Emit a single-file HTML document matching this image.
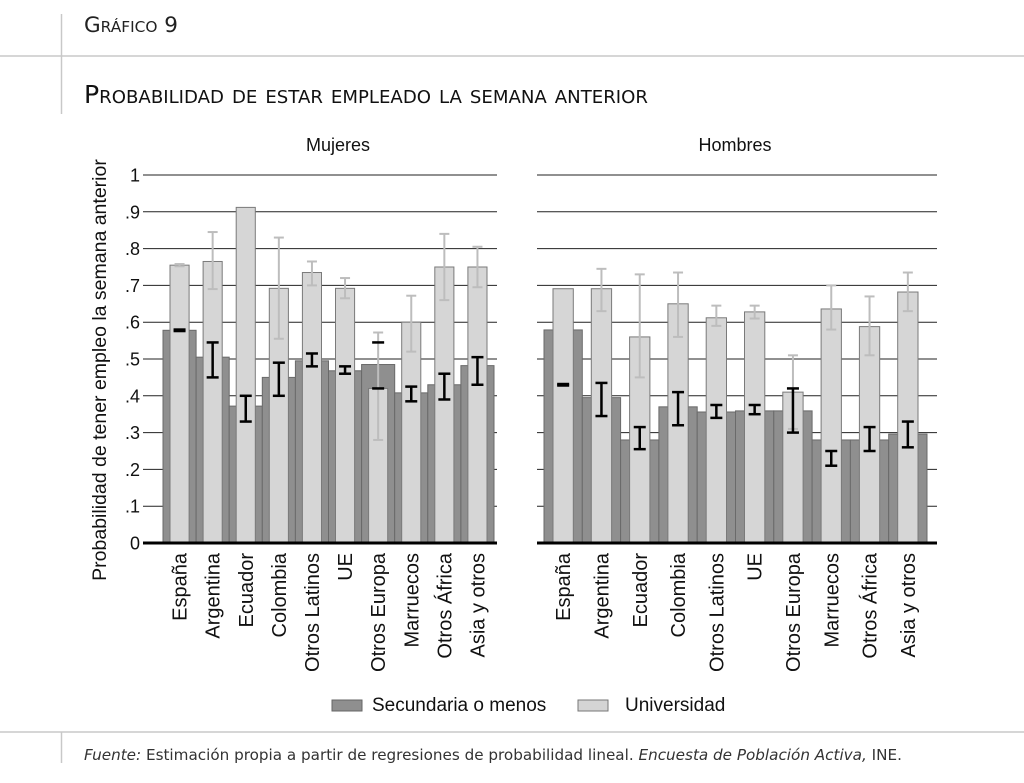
<!DOCTYPE html>
<html><head><meta charset="utf-8"><style>
html,body{margin:0;padding:0;background:#fff;}
body{width:1024px;height:783px;overflow:hidden;position:relative;}
svg{position:absolute;left:0;top:0;}
</style></head><body>
<svg id="s" width="1024" height="783" xmlns="http://www.w3.org/2000/svg" font-family="Liberation Sans, sans-serif">
<line x1="61.5" y1="14" x2="61.5" y2="114" stroke="#c8c8c8" stroke-width="1.5"/>
<line x1="0" y1="56" x2="1024" y2="56" stroke="#c8c8c8" stroke-width="1.5"/>
<line x1="0" y1="732" x2="1024" y2="732" stroke="#c8c8c8" stroke-width="1.5"/>
<line x1="61.5" y1="732" x2="61.5" y2="763" stroke="#c8c8c8" stroke-width="1.5"/>
<text x="84" y="32" font-family="DejaVu Sans, sans-serif" font-size="21" fill="#222" style="font-variant:small-caps" textLength="94" lengthAdjust="spacingAndGlyphs">Gráfico 9</text>
<text x="84" y="103" font-family="DejaVu Sans, sans-serif" font-size="25" fill="#111" style="font-variant:small-caps" textLength="564" lengthAdjust="spacingAndGlyphs">Probabilidad de estar empleado la semana anterior</text>
<text x="338" y="151" font-size="18" text-anchor="middle" fill="#111">Mujeres</text>
<text x="735" y="151" font-size="18" text-anchor="middle" fill="#111">Hombres</text>
<text transform="translate(106,370) rotate(-90)" font-size="19.5" text-anchor="middle" fill="#111">Probabilidad de tener empleo la semana anterior</text>
<g id="g"></g>
<rect x="332" y="700" width="30" height="11" fill="#8f8f8f" stroke="#666" stroke-width="1"/>
<text x="372" y="711" font-size="19" fill="#111">Secundaria o menos</text>
<rect x="578" y="700" width="30" height="11" fill="#d4d4d4" stroke="#777" stroke-width="1"/>
<text x="625" y="711" font-size="19" fill="#111">Universidad</text>
<text x="84" y="760" font-family="DejaVu Sans, sans-serif" font-size="15.2" fill="#333"><tspan font-style="italic">Fuente:</tspan> Estimación propia a partir de regresiones de probabilidad lineal. <tspan font-style="italic">Encuesta de Población Activa,</tspan> INE.</text>
</svg>
<script>
var g=document.getElementById('g'),h='';
function Y(v){return 543-368*v;}
var cats=['España','Argentina','Ecuador','Colombia','Otros Latinos','UE','Otros Europa','Marruecos','Otros África','Asia y otros'];
for(var i=1;i<=10;i++){var y=Y(i/10);
h+='<line x1="143" y1="'+y+'" x2="497" y2="'+y+'" stroke="#222" stroke-width="1"/>';
h+='<line x1="537" y1="'+y+'" x2="937" y2="'+y+'" stroke="#222" stroke-width="1"/>';}
for(var i=0;i<=10;i++){var t=i==0?'0':(i==10?'1':'.'+i);
h+='<text x="140" y="'+(Y(i/10)+6.5)+'" font-size="18" text-anchor="end" fill="#111">'+t+'</text>';}
var P=[
{x0:163,w:33.1,ins:7,
d:[.578,.505,.372,.45,.495,.468,.485,.408,.43,.482],
u:[.755,.765,.912,.692,.735,.692,.42,.60,.75,.75],
ue:[[.752,.758],[.69,.845],null,[.555,.83],[.70,.765],[.665,.72],[.28,.572],[.52,.672],[.66,.84],[.695,.805]],
de:[[.576,.58],[.45,.545],[.33,.40],[.40,.49],[.48,.515],[.46,.48],[.42,.545,1],[.385,.425],[.39,.46],[.43,.505]]},
{x0:544,w:38.3,ins:9,
d:[.579,.395,.28,.37,.356,.359,.359,.28,.28,.296],
u:[.691,.691,.56,.65,.612,.628,.41,.636,.588,.682],
ue:[null,[.63,.745],[.45,.73],[.56,.735],[.59,.645],[.61,.645],[.31,.51],[.58,.70],[.51,.67],[.63,.735]],
de:[[.428,.432],[.345,.435],[.255,.315],[.32,.41],[.34,.375],[.35,.375],[.30,.42],[.21,.25],[.25,.315],[.26,.33]]}];
P.forEach(function(p){
for(var i=0;i<10;i++){var x=p.x0+p.w*i,cx=x+p.w/2;
h+='<rect x="'+x+'" y="'+Y(p.d[i])+'" width="'+p.w+'" height="'+(368*p.d[i])+'" fill="#8f8f8f" stroke="#6a6a6a" stroke-width="1"/>';
h+='<rect x="'+(x+p.ins)+'" y="'+Y(p.u[i])+'" width="'+(p.w-2*p.ins)+'" height="'+(368*p.u[i])+'" fill="#d6d6d6" stroke="#7a7a7a" stroke-width="1"/>';
var e=p.ue[i];if(e){h+='<g stroke="#bdbdbd" stroke-width="2"><line x1="'+cx+'" y1="'+Y(e[0])+'" x2="'+cx+'" y2="'+Y(e[1])+'"/><line x1="'+(cx-5)+'" y1="'+Y(e[0])+'" x2="'+(cx+5)+'" y2="'+Y(e[0])+'"/><line x1="'+(cx-5)+'" y1="'+Y(e[1])+'" x2="'+(cx+5)+'" y2="'+Y(e[1])+'"/></g>';}
e=p.de[i];h+='<g stroke="#000" stroke-width="2.5">'+(e[2]?'':'<line x1="'+cx+'" y1="'+Y(e[0])+'" x2="'+cx+'" y2="'+Y(e[1])+'"/>')+'<line x1="'+(cx-6)+'" y1="'+Y(e[0])+'" x2="'+(cx+6)+'" y2="'+Y(e[0])+'"/><line x1="'+(cx-6)+'" y1="'+Y(e[1])+'" x2="'+(cx+6)+'" y2="'+Y(e[1])+'"/></g>';
h+='<text transform="translate('+(cx+7)+',553) rotate(-90)" font-size="20" text-anchor="end" fill="#111">'+cats[i]+'</text>';}
});
h+='<line x1="143" y1="543" x2="497" y2="543" stroke="#000" stroke-width="3"/>';
h+='<line x1="537" y1="543" x2="937" y2="543" stroke="#000" stroke-width="3"/>';
g.innerHTML=h;
</script>
</body></html>
